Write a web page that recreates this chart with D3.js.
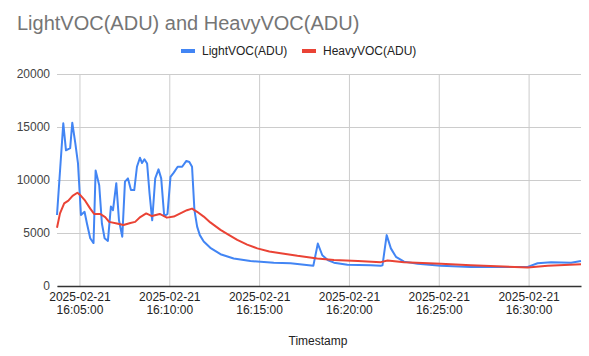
<!DOCTYPE html>
<html><head><meta charset="utf-8">
<script src="https://cdn.jsdelivr.net/npm/d3@7"></script>
<style>body{margin:0;background:#fff;font-family:Arial,"Liberation Sans",sans-serif}</style>
</head><body><svg id="c" width="589" height="356"></svg>
<script>
const lightTimes = ["16:03:45","16:04:06","16:04:15","16:04:29","16:04:36","16:04:46","16:04:55","16:05:05","16:05:17","16:05:25","16:05:36","16:05:47","16:05:54","16:06:06","16:06:15","16:06:24","16:06:35","16:06:45","16:06:52","16:07:03","16:07:12","16:07:23","16:07:32","16:07:42","16:07:52","16:08:03","16:08:12","16:08:22","16:08:29","16:08:37","16:08:46","16:08:54","16:09:03","16:09:13","16:09:24","16:09:33","16:09:43","16:09:54","16:10:04","16:10:15","16:10:28","16:10:43","16:10:57","16:11:07","16:11:16","16:11:24","16:11:33","16:11:42","16:11:55","16:12:17","16:12:51","16:13:35","16:14:31","16:15:49","16:16:45","16:18:01","16:18:16","16:18:31","16:18:49","16:19:10","16:19:55","16:21:13","16:21:46","16:21:52","16:22:06","16:22:20","16:22:37","16:23:04","16:23:49","16:25:07","16:26:47","16:29:57","16:30:30","16:31:15","16:32:22","16:32:55"];
const lightValues = [6700,15350,12800,13000,15400,13500,11600,6700,7000,5900,4500,4050,10900,9500,5900,4500,4250,7500,7150,9700,6200,4650,9850,10150,9050,9050,11250,12100,11600,11950,11550,8750,6200,10150,11000,10150,6600,6800,10300,10700,11250,11250,11800,11700,11250,7150,5600,4800,4200,3600,3000,2600,2350,2200,2150,1900,4000,2900,2450,2200,2000,1950,1900,1950,4800,3550,2750,2300,2100,1900,1800,1800,2150,2250,2200,2350];
const heavyTimes = ["16:03:45","16:03:55","16:04:09","16:04:23","16:04:37","16:04:53","16:05:02","16:05:19","16:05:36","16:05:49","16:06:09","16:06:26","16:06:39","16:07:05","16:07:27","16:07:50","16:08:06","16:08:23","16:08:43","16:09:02","16:09:28","16:09:52","16:10:15","16:10:37","16:10:59","16:11:16","16:11:33","16:11:55","16:12:17","16:12:51","16:13:20","16:13:47","16:14:20","16:14:54","16:15:34","16:16:12","16:17:08","16:18:14","16:19:10","16:20:30","16:21:46","16:22:09","16:23:04","16:25:07","16:26:47","16:29:57","16:31:04","16:32:55"];
const heavyValues = [5500,6850,7800,8050,8500,8800,8600,8050,7300,6800,6800,6500,6050,5900,5750,5950,6050,6500,6850,6600,6800,6450,6550,6850,7150,7300,7000,6550,6000,5300,4800,4350,3900,3550,3250,3100,2850,2600,2450,2350,2250,2400,2250,2100,1950,1750,1900,2050];
const seriesNames = ["LightVOC(ADU)","HeavyVOC(ADU)"];
const yTicks = [0,5000,10000,15000,20000];
const xTicks = ["16:05:00","16:10:00","16:15:00","16:20:00","16:25:00","16:30:00"];
const dateLabel = "2025-02-21";

const parse = s => d3.timeParse("%Y-%m-%d %H:%M:%S")(dateLabel + " " + s);
const light = lightTimes.map((t,i)=>({t:parse(t),v:lightValues[i]}));
const heavy = heavyTimes.map((t,i)=>({t:parse(t),v:heavyValues[i]}));

const FONT = 'Arial,"Liberation Sans",sans-serif';
const svg = d3.select("#c").attr("font-family",FONT);
const L=57,R=581,T=74,B=286;
const x = d3.scaleTime().domain([parse(lightTimes[0]), parse(lightTimes[lightTimes.length-1])]).range([L,R]);
const y = d3.scaleLinear().domain([0,20000]).range([B,T]);

svg.append("text").attr("x",17).attr("y",30).attr("font-size",20).attr("fill","#757575").text("LightVOC(ADU) and HeavyVOC(ADU)");

const gy = svg.append("g").attr("transform",`translate(${L},0)`)
  .call(d3.axisLeft(y).tickValues(yTicks).tickSize(-(R-L)).tickPadding(7).tickFormat(d3.format("d")));
gy.select(".domain").remove();
gy.selectAll(".tick line").attr("stroke","#cccccc");
gy.selectAll(".tick text").attr("font-size",12).attr("fill","#444").attr("font-family",FONT);

const gx = svg.append("g").attr("transform",`translate(0,${T})`)
  .call(d3.axisBottom(x).tickValues(xTicks.map(parse)).tickSize(B-T).tickFormat(""));
gx.select(".domain").remove();
gx.selectAll(".tick line").attr("stroke","#cccccc");

const xl = svg.append("g").attr("transform",`translate(0,${B})`)
  .call(d3.axisBottom(x).tickValues(xTicks.map(parse)).tickSize(0).tickFormat(""));
xl.select(".domain").attr("stroke","#333").attr("stroke-width",1.3);
xl.selectAll(".tick").each(function(d,i){
  const g=d3.select(this);
  g.append("text").attr("y",15).attr("font-size",12).attr("fill","#222").attr("text-anchor","middle").attr("font-family",FONT).text(dateLabel);
  g.append("text").attr("y",28).attr("font-size",12).attr("fill","#222").attr("text-anchor","middle").attr("font-family",FONT).text(xTicks[i]);
});

const line = d3.line().x(d=>x(d.t)).y(d=>y(d.v));
svg.append("path").datum(light).attr("d",line).attr("fill","none").attr("stroke","#4285F4").attr("stroke-width",2).attr("stroke-linejoin","round");
svg.append("path").datum(heavy).attr("d",line).attr("fill","none").attr("stroke","#EA4335").attr("stroke-width",2).attr("stroke-linejoin","round");

const colors=["#4285F4","#EA4335"], lx=[181,302];
seriesNames.forEach((n,i)=>{
  svg.append("rect").attr("x",lx[i]).attr("y",49).attr("width",14).attr("height",4).attr("fill",colors[i]);
  svg.append("text").attr("x",lx[i]+21).attr("y",55).attr("font-size",12).attr("fill","#222").text(n);
});

svg.append("text").attr("x",318).attr("y",345).attr("text-anchor","middle").attr("font-size",12).attr("fill","#222").text("Timestamp");
</script></body></html>
